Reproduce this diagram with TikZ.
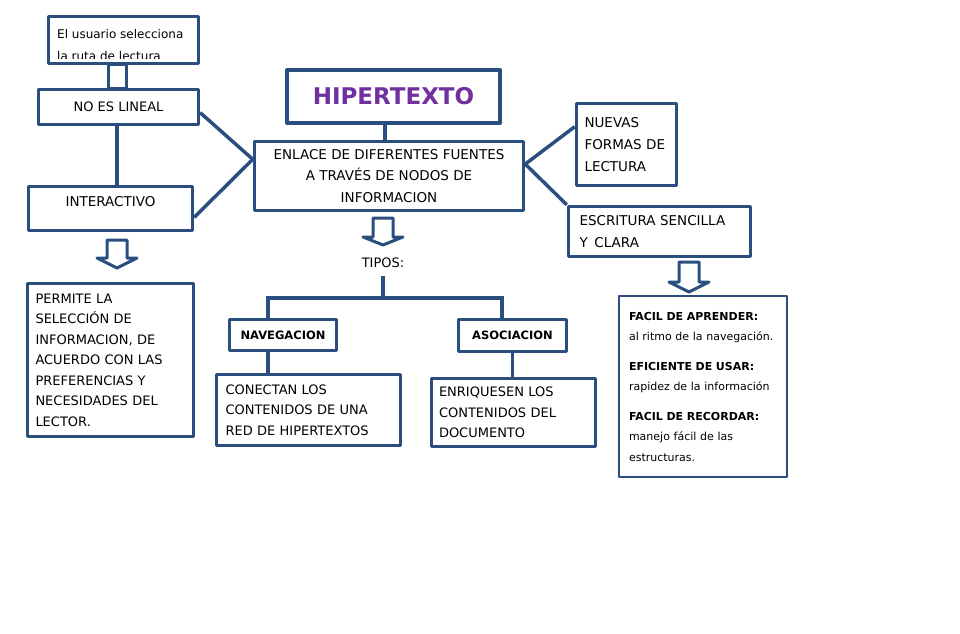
\documentclass[tikz,border=0pt]{standalone}
\usepackage{fontspec}
\setmainfont{DejaVu Sans}
\definecolor{mapblue}{HTML}{2A4E7E}
\definecolor{titlepurple}{HTML}{7030A0}

\begin{document}
\begin{tikzpicture}[x=1pt, y=-1pt,
    box/.style={draw=mapblue, line width=3.5pt, fill=white, inner sep=0pt, line join=round,
      font=\fontsize{13}{20.5}\selectfont},
    leftbox/.style={box, align=left},
    boldbox/.style={box, font=\fontsize{11.5}{14}\selectfont\bfseries},
    link/.style={draw=mapblue, line width=3.5pt},
    blockarrow/.style={draw=mapblue, line width=3pt, fill=white, line join=round}]
  \useasboundingbox (0,0) rectangle (960,633);
  % left branch
  \node[box, minimum width=18pt, minimum height=24pt, line width=3pt] (peg) at (117,76) {};
  \node[box, minimum width=150pt, minimum height=47pt] (usuario) at (123.5,40) {};
  \begin{scope}
    \clip (usuario.north west) rectangle ([yshift=7pt]usuario.south east);
    \node[anchor=north west, inner sep=0pt, align=left, font=\fontsize{12}{22}\selectfont] (usuariotxt) at (57,29) {El usuario selecciona\\la ruta de lectura};
  \end{scope}
  \node[box, minimum width=160pt, minimum height=35pt] (lineal) at (118.5,107) {NO ES LINEAL};
  \node[box, minimum width=164pt, minimum height=44pt, text depth=14pt,
    font=\fontsize{13.5}{16}\selectfont] (inter) at (110.5,208.5) {INTERACTIVO};
  \node[leftbox, minimum width=166pt, minimum height=153pt, text width=150pt] (permite) at (110.5,360)
    {PERMITE LA\\SELECCIÓN DE\\INFORMACION, DE\\ACUERDO CON LAS\\PREFERENCIAS Y\\NECESIDADES DEL\\LECTOR.};
  % centre
  \node[box, line width=4pt, minimum width=213pt, minimum height=53pt, text=titlepurple,
    font=\fontsize{23}{26}\selectfont\bfseries] (title) at (393.5,96.5) {HIPERTEXTO};
  \node[box, minimum width=269pt, minimum height=69pt, align=center,
    font=\fontsize{13.5}{21.5}\selectfont] (enlace) at (389,176)
    {ENLACE DE DIFERENTES FUENTES\\A TRAVÉS DE NODOS DE\\INFORMACION};
  \node[inner xsep=2pt, inner ysep=8pt, font=\fontsize{13}{15}\selectfont] (tipos) at (383,263) {TIPOS:};
  \coordinate (split) at (383,298);
  \node[boldbox, minimum width=107pt, minimum height=31pt] (nave) at (283,335) {NAVEGACION};
  \node[boldbox, minimum width=108pt, minimum height=32pt] (asoc) at (512.5,335.5) {ASOCIACION};
  \node[leftbox, minimum width=184pt, minimum height=71pt, text width=166pt] (conectan) at (308.5,410)
    {CONECTAN LOS\\CONTENIDOS DE UNA\\RED DE HIPERTEXTOS};
  \node[leftbox, minimum width=164pt, minimum height=68pt, text width=149pt] (enriq) at (513.5,412.5)
    {ENRIQUESEN LOS\\CONTENIDOS DEL\\DOCUMENTO};
  % right branch
  \node[leftbox, minimum width=100pt, minimum height=82pt, text width=84pt,
    font=\fontsize{13.5}{22}\selectfont] (nuevas) at (626.5,144.5) {NUEVAS\\FORMAS DE\\LECTURA};
  \node[leftbox, minimum width=182pt, minimum height=50pt, text width=160pt,
    font=\fontsize{13.5}{22}\selectfont] (escritura) at (659.5,231.5) {ESCRITURA SENCILLA\\Y\, CLARA};
  \node[leftbox, line width=2.2pt, minimum width=168pt, minimum height=181pt, text width=148pt,
    font=\fontsize{11}{20.5}\selectfont] (facil) at (703,386.5)
    {\textbf{FACIL DE APRENDER:}\\al ritmo de la navegación.\\[9pt]
     \textbf{EFICIENTE DE USAR:}\\rapidez de la información\\[9pt]
     \textbf{FACIL DE RECORDAR:}\\manejo fácil de las\\estructuras.};
  % connectors
  \draw[link] (lineal.-4) -- (enlace.173);
  \draw[link] (inter.-6) -- (enlace.173);
  \draw[link] ([xshift=-1.5pt]lineal.south) -- ([xshift=-1.5pt]lineal.south |- inter.north);
  \draw[link] ([xshift=-8.5pt]title.south) -- ([xshift=-8.5pt]title.south |- enlace.north);
  \draw[link] (enlace.5) -- (nuevas.161);
  \draw[link] (enlace.5) -- (escritura.north west);
  \draw[link] (tipos.south) -- (split);
  \draw[link] ([xshift=-15pt]nave.north) |- (split) -| ([xshift=-10.5pt]asoc.north);
  \draw[link] ([xshift=-15pt]nave.south) -- ([xshift=-15pt]nave.south |- conectan.north);
  \draw[link] (asoc.south) -- (asoc.south |- enriq.north);
  % block arrows
  \foreach \cx/\ty/\s/\h in {117/240/18/10, 383/218/19/8, 689/262/20/10}
    {\draw[blockarrow] (\cx-10,\ty) -- (\cx+10,\ty) -- (\cx+10,\ty+\s) -- (\cx+20,\ty+\s)
       -- (\cx,\ty+\s+\h) -- (\cx-20,\ty+\s) -- (\cx-10,\ty+\s) -- cycle;}
\end{tikzpicture}
\end{document}
